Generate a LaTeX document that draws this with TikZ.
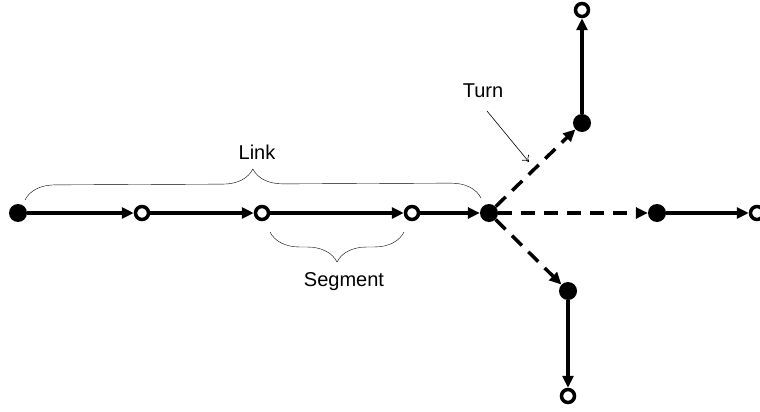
\documentclass[tikz,border=0pt]{standalone}
\usepackage{fontspec}
\setmainfont{Liberation Sans}
\usetikzlibrary{arrows.meta,decorations.pathreplacing,calc}
\tikzstyle{full}=[circle, fill=black, inner sep=0pt, minimum size=18pt]
\tikzstyle{hollow}=[circle, draw, fill=white, line width=3.5pt, inner sep=0pt, minimum size=13pt]
\tikzstyle{seg}=[line width=3.5pt,-{Triangle[length=12pt,width=11pt]}]
\tikzstyle{turn}=[seg,dash pattern=on 14pt off 9pt]
\tikzstyle{curly}=[thin,decorate,decoration={brace,amplitude=30pt}]
\tikzstyle{lbl}=[font=\fontsize{20}{24}\selectfont]

\begin{document}
\begin{tikzpicture}[x=1pt,y=-1pt]
\useasboundingbox (0,0) rectangle (760,412);
\node (a) [full] at (18,213) {};
\node (b) [hollow] at (142,213) {};
\node (c) [hollow] at (262,213) {};
\node (d) [hollow] at (412,213) {};
\node (x) [full] at (489,213) {};
\node (u) [full] at (582,123) {};
\node (ue) [hollow] at (582,10) {};
\node (r) [full] at (657,213) {};
\node (re) [hollow] at (757,213) {};
\node (l) [full] at (568,291) {};
\node (le) [hollow] at (568,396) {};
\node (link) [lbl] at (257,152) {Link};
\node (segment) [lbl] at (344,282) {Segment};
\node (turnlbl) [lbl] at (483,91) {Turn};
\coordinate (from) at (487,111);
\coordinate (to) at (529,162);
\draw[seg] (a) -- (b);
\draw[seg] (b) -- (c);
\draw[seg] (c) -- (d);
\draw[seg] (d) -- (x);
\draw[turn] (x) -- (u);
\draw[turn] (x) -- (r);
\draw[turn] (x) -- (l);
\draw[seg] (u) -- (ue);
\draw[seg] (r) -- (re);
\draw[seg] (l) -- (le);
\draw[curly] ($(a)+(7,-13)$) -- ($(x)+(-8,-15)$);
\draw[curly] ($(d)+(-8,19)$) -- ($(c)+(8,19)$);
\draw[-{To[length=6pt,width=9pt]},semithick] (from) -- (to);
\end{tikzpicture}
\end{document}
